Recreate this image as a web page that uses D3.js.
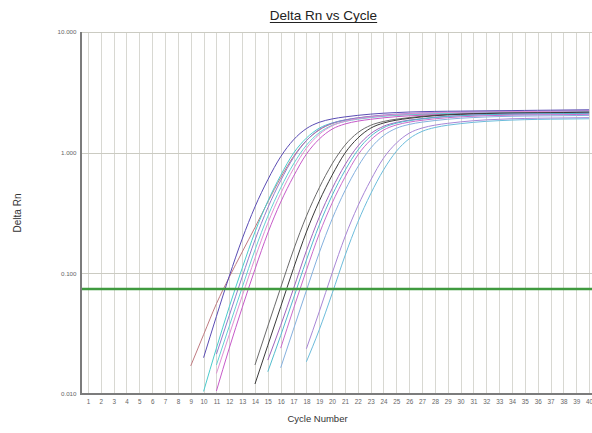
<!DOCTYPE html>
<html><head><meta charset="utf-8">
<script src="https://cdn.jsdelivr.net/npm/d3@7"></script>
<style>html,body{margin:0;padding:0;background:#fff;}svg{display:block;font-family:"Liberation Sans",Arial,sans-serif;}</style>
</head><body><svg id="c" width="592" height="433"></svg>
<script>
// ---- data ----
const cycleTicks = [1,2,3,4,5,6,7,8,9,10,11,12,13,14,15,16,17,18,19,20,21,22,23,24,25,26,27,28,29,30,31,32,33,34,35,36,37,38,39,40];
const yTickValues = [0.01, 0.1, 1, 10];
const yTickLabels = ["0.010", "0.100", "1.000", "10.000"];
const threshold = 0.074;

// Delta Rn values, one per cycle from the well's start cycle up to cycle 40
const wellR  = [0.0171,0.031,0.056,0.093,0.150,0.240,0.390,0.620,0.930,1.260,1.540,1.740,1.860,1.940,1.990,2.025,2.050,2.068,2.080,2.090,2.097,2.103,2.108,2.113,2.118,2.123,2.128,2.133,2.138,2.143,2.148,2.153];
const wellC1 = [0.0105,0.0240,0.0528,0.110,0.220,0.396,0.649,0.990,1.320,1.595,1.760,1.859,1.925,1.980,2.024,2.057,2.079,2.101,2.112,2.123,2.129,2.134,2.140,2.145,2.151,2.156,2.162,2.167,2.173,2.178,2.184];
const wellV1 = [0.0214,0.0447,0.0932,0.1888,0.3494,0.5863,0.9096,1.255,1.556,1.754,1.869,1.944,2.003,2.050,2.085,2.111,2.134,2.148,2.159,2.166,2.172,2.177,2.183,2.188,2.194,2.200,2.205,2.211,2.216,2.222];
const wellC2 = [0.0174,0.0365,0.0761,0.1564,0.2974,0.5110,0.8061,1.152,1.463,1.684,1.813,1.894,1.953,2.002,2.041,2.068,2.090,2.107,2.118,2.126,2.131,2.137,2.142,2.148,2.153,2.159,2.164,2.170,2.175,2.181];
const wellK1 = [0.0148,0.0310,0.0646,0.1335,0.2604,0.458,0.7364,1.087,1.417,1.669,1.819,1.911,1.973,2.027,2.070,2.100,2.122,2.142,2.153,2.163,2.169,2.174,2.180,2.185,2.191,2.197,2.202,2.208,2.213,2.219];
const wellM1 = [0.0106,0.0240,0.0518,0.108,0.216,0.389,0.637,0.972,1.296,1.566,1.728,1.825,1.890,1.944,1.987,2.020,2.041,2.063,2.074,2.084,2.090,2.095,2.101,2.106,2.111,2.117,2.122,2.128,2.133,2.138];
const wellG1 = [0.0174,0.0365,0.0761,0.1564,0.2974,0.5110,0.8061,1.152,1.463,1.684,1.813,1.894,1.953,2.002,2.041,2.068,2.090,2.107,2.118,2.126,2.131,2.137,2.142,2.148,2.153,2.159,2.164];
const wellB1 = [0.0121,0.0253,0.0528,0.110,0.220,0.396,0.649,0.990,1.320,1.595,1.760,1.859,1.925,1.980,2.024,2.057,2.079,2.101,2.112,2.123,2.129,2.134,2.140,2.145,2.151,2.156,2.162];
const wellV2 = [0.0191,0.0370,0.0747,0.1536,0.2920,0.5017,0.7914,1.131,1.436,1.653,1.780,1.860,1.917,1.966,2.003,2.030,2.052,2.068,2.079,2.087,2.093,2.098,2.103,2.109,2.114,2.120];
const wellC3 = [0.0153,0.0305,0.0622,0.1287,0.2511,0.4416,0.7101,1.048,1.366,1.609,1.754,1.842,1.903,1.955,1.996,2.025,2.047,2.066,2.076,2.086,2.091,2.097,2.102,2.107,2.113,2.118];
const wellM2 = [0.0240,0.0509,0.106,0.212,0.3816,0.6254,0.954,1.272,1.537,1.696,1.791,1.855,1.908,1.950,1.982,2.003,2.025,2.035,2.046,2.051,2.056,2.062,2.067,2.072,2.078];
const wellL1 = [0.0165,0.0345,0.0720,0.1479,0.2812,0.4831,0.7621,1.089,1.383,1.592,1.714,1.791,1.846,1.893,1.929,1.955,1.976,1.992,2.002,2.010,2.015,2.020,2.025,2.031,2.036];
const wellV3 = [0.0237,0.0480,0.100,0.200,0.360,0.590,0.900,1.200,1.450,1.600,1.690,1.750,1.800,1.840,1.870,1.890,1.910,1.920,1.930,1.935,1.940,1.945,1.950];
const wellC4 = [0.0185,0.0340,0.0678,0.1394,0.2650,0.4552,0.7181,1.026,1.303,1.500,1.615,1.688,1.740,1.784,1.818,1.842,1.862,1.877,1.887,1.894,1.899,1.904,1.909];
const wellP1 = [0.0200,0.0440,0.0948,0.1922,0.3557,0.5968,0.9258,1.278,1.583,1.785,1.903,1.979,2.038,2.086,2.123,2.149,2.172,2.187,2.198,2.205,2.210,2.216,2.222,2.228,2.233,2.239,2.245,2.250,2.256,2.262,2.267];

const wellValues = [wellR, wellC1, wellV1, wellC2, wellK1, wellM1, wellG1, wellB1, wellV2, wellC3, wellM2, wellL1, wellV3, wellC4, wellP1];
const wellStart  = [9, 10, 11, 11, 11, 11, 14, 14, 15, 15, 16, 16, 18, 18, 10];
// styles (order matches wellValues)
const wellColors = ["#bf7a80","#4ccbcc","#9479cc","#66d0d2","#df8fd3","#c65ac8","#6a6a6a","#3a3a3a","#a064bc","#52bccd","#c96ccc","#84b0de","#a886d6","#6cbcdb","#5a4cb4"];

// ---- drawing ----
const svg = d3.select("#c");
svg.append("rect").attr("width",592).attr("height",433).attr("fill","#fff");
const L = 81.5, T = 32, B = 394, R = 595.5;
const x = d3.scaleLinear().domain([0.5, 40.5]).range([L, R]);
const y = d3.scaleLog().domain([0.01, 10]).range([B, T]);

// grid
const grid = svg.append("g");
grid.selectAll("line.v").data(cycleTicks).enter().append("line")
  .attr("x1", d => Math.round(x(d)) + 0.5).attr("x2", d => Math.round(x(d)) + 0.5)
  .attr("y1", T).attr("y2", B).attr("stroke", "#d8d8d2").attr("stroke-width", 1);
grid.selectAll("line.h").data(yTickValues.slice(1)).enter().append("line")
  .attr("x1", L).attr("x2", 592)
  .attr("y1", d => Math.round(y(d)) + 0.5).attr("y2", d => Math.round(y(d)) + 0.5)
  .attr("stroke", "#cbcbc2").attr("stroke-width", 1);

// curves
svg.append("clipPath").attr("id","pc").append("rect")
  .attr("x", L).attr("y", T).attr("width", R - L).attr("height", B - T);
const line = d3.line().x(d => x(d[0])).y(d => y(d[1])).curve(d3.curveMonotoneX);
const cg = svg.append("g").attr("clip-path","url(#pc)");
wellValues.forEach((vals, i) => {
  const s = wellStart[i];
  const pts = vals.map((v, j) => [s + j, v]);
  cg.append("path").attr("d", line(pts)).attr("fill","none")
    .attr("stroke", wellColors[i]).attr("stroke-width", 1);
});

// threshold
svg.append("line").attr("x1", L).attr("x2", 592)
  .attr("y1", y(threshold)).attr("y2", y(threshold))
  .attr("stroke", "#3f9a3f").attr("stroke-width", 2.5);

// axes
const xAxis = d3.axisBottom(x).tickValues(cycleTicks).tickSize(0).tickPadding(6).tickFormat(d3.format("d"));
const gx = svg.append("g").attr("transform", `translate(0,${B})`).call(xAxis);
gx.select(".domain").remove();
gx.selectAll("text").attr("font-size", 6.3).attr("fill", "#666").attr("font-family", '"Liberation Sans",Arial,sans-serif');
const yAxis = d3.axisLeft(y).tickValues(yTickValues).tickSize(0).tickPadding(5).tickFormat((d, i) => yTickLabels[i]);
const gy = svg.append("g").attr("transform", `translate(${L},0)`).call(yAxis);
gy.select(".domain").remove();
gy.selectAll("text").attr("font-size", 6.2).attr("fill", "#666").attr("font-family", '"Liberation Sans",Arial,sans-serif');

svg.append("line").attr("x1", 81).attr("x2", 81).attr("y1", T).attr("y2", B + 1)
  .attr("stroke", "#7c7c7c").attr("stroke-width", 2);
svg.append("line").attr("x1", 80).attr("x2", 592).attr("y1", B).attr("y2", B)
  .attr("stroke", "#7c7c7c").attr("stroke-width", 2);

// titles
const title = svg.append("text").attr("x", 323.5).attr("y", 20).attr("text-anchor","middle")
  .attr("font-size", 13.5).attr("fill", "#222").text("Delta Rn vs Cycle");
const tw = title.node().getComputedTextLength();
svg.append("line").attr("x1", 323.5 - tw/2).attr("x2", 323.5 + tw/2).attr("y1", 22.5).attr("y2", 22.5)
  .attr("stroke", "#222").attr("stroke-width", 1);
svg.append("text").attr("transform", "translate(21,213) rotate(-90)").attr("text-anchor","middle")
  .attr("font-size", 10).attr("fill", "#333").text("Delta Rn");
svg.append("text").attr("x", 317.5).attr("y", 422).attr("text-anchor","middle")
  .attr("font-size", 9.5).attr("fill", "#333").text("Cycle Number");
</script></body></html>
